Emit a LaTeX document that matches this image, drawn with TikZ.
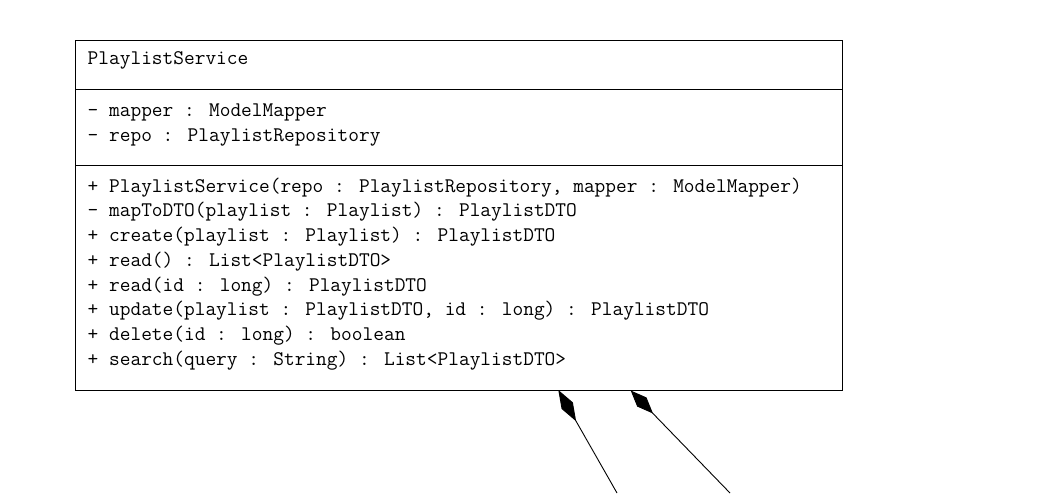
\documentclass[tikz,border=0pt]{standalone}
\usepackage{fontspec}
\usetikzlibrary{arrows.meta}
\tikzset{
  umltxt/.style={anchor=base west, inner sep=0pt, font=\ttfamily\fontsize{20.8}{24.7}\selectfont},
  classbox/.style={draw, line width=0.9pt, rectangle, minimum width=767pt, minimum height=350pt, inner sep=0pt},
  sepline/.style={line width=0.9pt},
  composition/.style={line width=0.9pt, -{Diamond[length=#1, width=13pt]}},
}
\begin{document}
\begin{tikzpicture}[x=1pt, y=-1pt]
\useasboundingbox (0,0) rectangle (1038,493);
\node[classbox] (cls) at (458.5,215) {};
\draw[sepline] (75,89) -- (842,89);
\draw[sepline] (75,165) -- (842,165);
\node[umltxt] (name) at (87.5,64) {PlaylistService};
\node[umltxt] (f1) at (87.5,116.5) {- mapper : ModelMapper};
\node[umltxt] (f2) at (87.5,141) {- repo : PlaylistRepository};
\node[umltxt] (m1) at (87.5,192.2) {+ PlaylistService(repo : PlaylistRepository, mapper : ModelMapper)};
\node[umltxt] (m2) at (87.5,216.9) {- mapToDTO(playlist : Playlist) : PlaylistDTO};
\node[umltxt] (m3) at (87.5,241.6) {+ create(playlist : Playlist) : PlaylistDTO};
\node[umltxt] (m4) at (87.5,266.3) {+ read() : List<PlaylistDTO>};
\node[umltxt] (m5) at (87.5,291) {+ read(id : long) : PlaylistDTO};
\node[umltxt] (m6) at (87.5,315.7) {+ update(playlist : PlaylistDTO, id : long) : PlaylistDTO};
\node[umltxt] (m7) at (87.5,340.4) {+ delete(id : long) : boolean};
\node[umltxt] (m8) at (87.5,365.1) {+ search(query : String) : List<PlaylistDTO>};
\coordinate (tipA) at (558.3,390);
\coordinate (tipB) at (630.7,390.5);
\coordinate (endA) at (617,493);
\coordinate (endB) at (730,493);
\draw[composition=36pt] (endA) -- (tipA);
\draw[composition=32pt] (endB) -- (tipB);
\end{tikzpicture}
\end{document}
